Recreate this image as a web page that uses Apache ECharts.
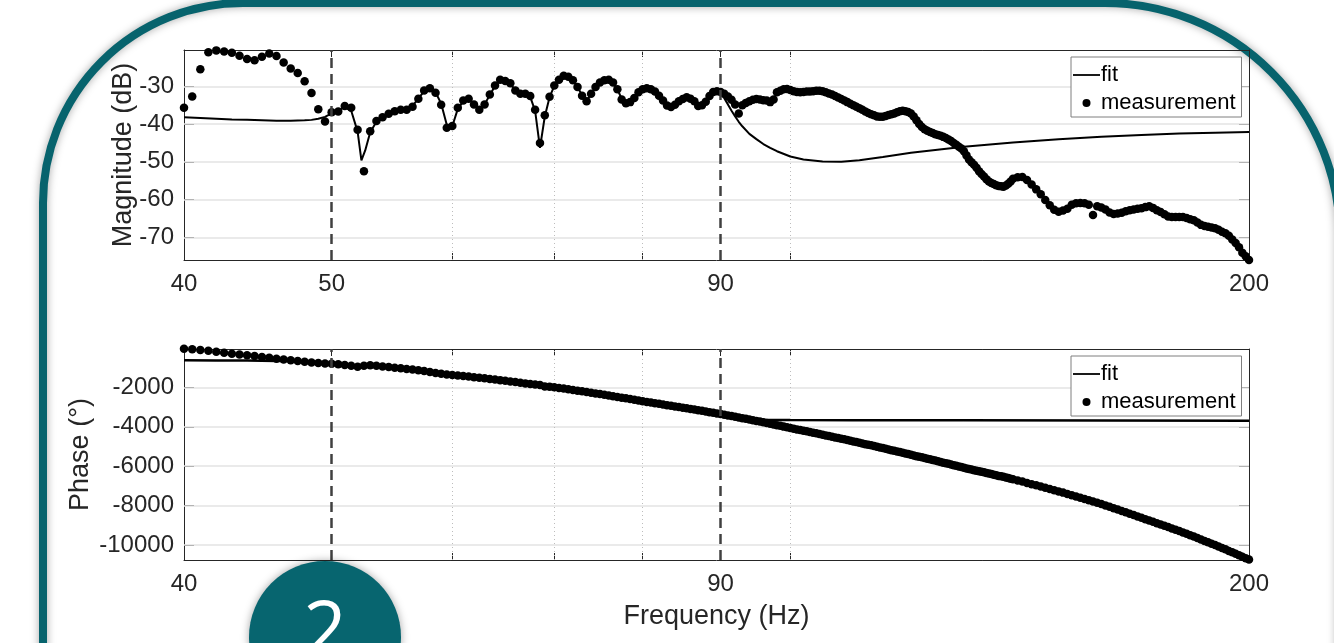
<!DOCTYPE html>
<html>
<head>
<meta charset="utf-8">
<script src="https://cdn.jsdelivr.net/npm/echarts@6/dist/echarts.min.js"></script>
<style>
  html, body { margin: 0; padding: 0; background: #fff; }
  #chart { width: 1334px; height: 643px; }
</style>
</head>
<body>
<div id="chart"></div>
<script>
// measured frequencies (Hz): 0.5 Hz steps up to 140, then 1 Hz
const freqs = [40,40.5,41,41.5,42,42.5,43,43.5,44,44.5,45,45.5,46,46.5,47,47.5,48,48.5,49,49.5,
  50,50.5,51,51.5,52,52.5,53,53.5,54,54.5,55,55.5,56,56.5,57,57.5,58,58.5,59,59.5,
  60,60.5,61,61.5,62,62.5,63,63.5,64,64.5,65,65.5,66,66.5,67,67.5,68,68.5,69,69.5,
  70,70.5,71,71.5,72,72.5,73,73.5,74,74.5,75,75.5,76,76.5,77,77.5,78,78.5,79,79.5,
  80,80.5,81,81.5,82,82.5,83,83.5,84,84.5,85,85.5,86,86.5,87,87.5,88,88.5,89,89.5,
  90,90.5,91,91.5,92,92.5,93,93.5,94,94.5,95,95.5,96,96.5,97,97.5,98,98.5,99,99.5,100,
  100.5,101,101.5,102,102.5,103,103.5,104,104.5,105,105.5,106,106.5,107,107.5,108,108.5,109,109.5,110,
  110.5,111,111.5,112,112.5,113,113.5,114,114.5,115,115.5,116,116.5,117,117.5,118,118.5,119,119.5,120,
  120.5,121,121.5,122,122.5,123,123.5,124,124.5,125,125.5,126,126.5,127,127.5,128,128.5,129,129.5,130,
  130.5,131,131.5,132,132.5,133,133.5,134,134.5,135,135.5,136,136.5,137,137.5,138,138.5,139,139.5,140,
  141,142,143,144,145,146,147,148,149,150,151,152,153,154,155,156,157,158,159,160,
  161,162,163,164,165,166,167,168,169,170,171,172,173,174,175,176,177,178,179,180,
  181,182,183,184,185,186,187,188,189,190,191,192,193,194,195,196,197,198,199,200];

// measured magnitude (dB)
const magMeas = [-35.7,-32.7,-25.5,-21.0,-20.5,-20.8,-21.1,-21.9,-22.8,-23.1,-22.2,-21.3,-22.0,-23.7,-25.3,-26.5,-28.7,-31.8,-36.1,-39.3,
  -36.9,-36.7,-35.2,-35.7,-41.5,-52.5,-41.9,-39.2,-38.2,-37.3,-36.6,-36.2,-36.2,-35.4,-33.3,-31.1,-30.5,-31.7,-34.9,-41.0,
  -40.5,-35.7,-33.8,-33.3,-34.8,-36.2,-34.8,-32.2,-29.8,-28.3,-28.6,-29.2,-31.1,-32.0,-32.0,-32.6,-36.2,-45.0,-37.7,-32.8,
  -29.8,-28.3,-27.2,-27.5,-28.4,-30.2,-32.5,-34.0,-32.0,-30.2,-29.0,-28.4,-28.3,-29.0,-30.8,-33.5,-34.5,-34.2,-33.1,-31.6,
  -30.8,-30.5,-30.8,-31.4,-32.5,-33.8,-35.1,-35.5,-34.9,-34.0,-33.4,-32.9,-33.3,-34.0,-35.2,-35.0,-34.1,-32.6,-31.5,-31.3,
  -31.5,-32.0,-32.7,-33.6,-34.8,-37.2,-35.0,-34.4,-34.0,-33.6,-33.4,-33.5,-33.7,-33.8,-34.2,-33.5,-31.6,-31.2,-30.8,-30.7,-31.0,
  -31.3,-31.5,-31.6,-31.5,-31.4,-31.4,-31.3,-31.2,-31.2,-31.3,-31.6,-31.9,-32.2,-32.6,-33.0,-33.4,-33.8,-34.2,-34.6,-35.0,
  -35.4,-35.8,-36.2,-36.7,-37.1,-37.4,-37.7,-38.0,-38.1,-38.1,-37.9,-37.6,-37.4,-37.2,-36.9,-36.6,-36.5,-36.6,-36.8,-37.2,
  -38.0,-39.0,-40.0,-40.8,-41.4,-41.8,-42.1,-42.4,-42.7,-42.9,-43.1,-43.4,-43.7,-44.1,-44.5,-45.0,-45.5,-46.0,-46.5,-47.2,
  -48.3,-49.4,-50.1,-50.8,-51.6,-52.5,-53.2,-53.9,-54.6,-55.2,-55.6,-55.9,-56.2,-56.4,-56.5,-56.6,-56.3,-55.8,-55.2,-54.5,
  -54.1,-54.0,-54.8,-56.0,-57.3,-58.6,-60.1,-61.5,-62.7,-63.2,
  -62.9,-62.4,-61.4,-61.0,-60.9,-61.0,-61.4,-64.1,-61.8,-62.1,
  -62.6,-63.4,-63.8,-63.7,-63.5,-63.1,-62.8,-62.6,-62.4,-62.3,
  -62.0,-61.8,-62.2,-62.8,-63.3,-63.9,-64.5,-64.6,-64.6,-64.6,
  -64.6,-64.9,-65.2,-65.5,-66.1,-66.7,-67.0,-67.2,-67.4,-67.6,
  -68.0,-68.5,-68.9,-69.6,-70.6,-71.5,-72.6,-74.1,-75.0,-76.0];

// measured phase (deg)
const phaseMeas = [-40,-60,-105,-140,-190,-240,-290,-330,-370,-410,-450,-500,-545,-580,-625,-665,-700,-730,-755,-780,
  -800,-825,-860,-905,-950,-900,-880,-905,-935,-965,-1000,-1030,-1065,-1095,-1130,-1165,-1215,-1265,-1310,-1340,
  -1365,-1390,-1420,-1450,-1480,-1510,-1540,-1570,-1600,-1630,-1665,-1695,-1730,-1760,-1795,-1825,-1855,-1875,-1955,-1960,
  -1990,-2025,-2060,-2095,-2130,-2165,-2200,-2235,-2270,-2305,-2340,-2375,-2410,-2450,-2485,-2520,-2555,-2590,-2630,-2665,
  -2700,-2735,-2765,-2800,-2830,-2865,-2900,-2930,-2965,-2995,-3030,-3060,-3095,-3125,-3160,-3190,-3225,-3255,-3290,-3320,
  -3350,-3385,-3420,-3455,-3490,-3525,-3560,-3595,-3630,-3665,-3700,-3735,-3770,-3810,-3845,-3880,-3915,-3950,-3990,-4025,-4060,
  -4095,-4130,-4165,-4200,-4230,-4260,-4295,-4330,-4365,-4400,-4435,-4470,-4505,-4540,-4570,-4600,-4635,-4670,-4705,-4740,
  -4775,-4810,-4845,-4880,-4910,-4940,-4975,-5010,-5045,-5080,-5115,-5150,-5185,-5220,-5250,-5280,-5315,-5350,-5385,-5420,
  -5455,-5490,-5520,-5550,-5585,-5620,-5650,-5680,-5715,-5750,-5785,-5820,-5850,-5880,-5915,-5950,-5980,-6010,-6045,-6080,
  -6110,-6140,-6170,-6200,-6225,-6250,-6280,-6310,-6340,-6370,-6400,-6430,-6460,-6490,-6515,-6540,-6570,-6600,-6630,-6660,
  -6720,-6780,-6850,-6910,-6970,-7030,-7090,-7160,-7220,-7280,
  -7340,-7410,-7470,-7540,-7600,-7660,-7730,-7790,-7860,-7920,
  -7990,-8060,-8130,-8200,-8270,-8340,-8410,-8480,-8550,-8620,
  -8690,-8750,-8820,-8890,-8960,-9020,-9090,-9160,-9220,-9290,
  -9360,-9430,-9500,-9570,-9640,-9720,-9790,-9860,-9930,-10000,
  -10070,-10150,-10220,-10300,-10370,-10440,-10520,-10590,-10670,-10740];

// fitted model
const fitMagFreqs = [40,41,42,43,44,45,46,47,48,48.5,49,49.5,50,50.5,51,51.5,52,52.3,52.6,
  53,53.5,54,54.5,55,55.5,56,56.5,57,57.5,58,58.5,59,59.5,59.8,
  60,60.5,61,61.5,62,62.5,63,63.5,64,64.5,65,65.5,66,66.5,67,67.5,68,68.5,69,69.5,
  70,70.5,71,71.5,72,72.5,73,73.5,74,74.5,75,75.5,76,76.5,77,77.5,78,78.5,79,79.5,
  80,80.5,81,81.5,82,82.5,83,83.5,84,84.5,85,85.5,86,86.5,87,87.5,88,88.5,89,89.5,
  90,90.5,91,91.5,92,92.5,93,94,95,96,97,98,100,102,105,108,111,115,120,130,140,150,160,170,180,190,200];
const fitMag = [-38.2,-38.4,-38.6,-38.8,-38.9,-39.0,-39.1,-39.1,-39.0,-38.9,-38.6,-38.1,-37.2,-36.4,-35.5,-36.5,-42.0,-49.6,-47.0,
  -42.2,-39.4,-38.2,-37.4,-36.8,-36.3,-36.0,-35.2,-33.3,-31.3,-30.6,-31.6,-34.6,-40.2,-41.2,
  -40.6,-36.0,-34.0,-33.5,-34.7,-35.9,-34.8,-32.3,-29.9,-28.5,-28.6,-29.4,-31.0,-31.9,-32.1,-32.8,-36.5,-46.3,-38.0,-32.9,
  -29.9,-28.4,-27.4,-27.6,-28.5,-30.2,-32.4,-33.8,-32.1,-30.3,-29.1,-28.5,-28.4,-29.1,-30.8,-33.3,-34.4,-34.1,-33.1,-31.7,
  -30.9,-30.6,-30.9,-31.5,-32.5,-33.8,-35.0,-35.3,-34.8,-34.0,-33.4,-33.0,-33.3,-34.0,-35.0,-34.9,-34.0,-32.7,-31.7,-31.4,
  -31.6,-33.2,-34.8,-36.5,-38.0,-39.4,-40.6,-42.6,-44.0,-45.3,-46.3,-47.2,-48.6,-49.4,-49.9,-50.0,-49.6,-48.7,-47.6,
  -46.0,-44.9,-44.0,-43.4,-42.9,-42.5,-42.3,-42.1];
const fitPhaseFreqs = [40,42,44,46,47,48,49,50,52,54,56,58,60,65,70,75,80,85,90,92,93,94,95,96,98,100,110,130,160,200];
const fitPhase = [-620,-630,-640,-655,-665,-690,-740,-790,-900,-935,-1065,-1215,-1365,-1665,-1990,-2340,-2700,-3030,
  -3350,-3470,-3530,-3580,-3615,-3635,-3650,-3656,-3662,-3668,-3678,-3690];

// axis ticks
const xTickLabels = [40, 50, 90, 200];
const xMinorTicks = [60, 70, 80, 100];
const magTicks = [-70, -60, -50, -40, -30];
const phaseTicks = [-10000, -8000, -6000, -4000, -2000];
const markerFreqs = [50, 90];

const FONT = 'Liberation Sans, Arial, sans-serif';
const AXIS_COLOR = '#262626';
const toPairs = (xs, ys) => xs.map((x, i) => [x, ys[i]]);

function xAxes (gridIndex, name) {
  const base = {
    type: 'log', logBase: 10, gridIndex, min: 40, max: 200,
    axisLine: { show: true, onZero: false, lineStyle: { color: AXIS_COLOR, width: 1 } },
    axisTick: { show: true, inside: true, length: 7, customValues: xTickLabels.concat(xMinorTicks), lineStyle: { color: AXIS_COLOR } },
    splitLine: { show: false }
  };
  return [
    Object.assign({}, base, {
      position: 'bottom',
      name, nameLocation: 'middle', nameGap: 43, nameMoveOverlap: false,
      nameTextStyle: { fontSize: 27, color: AXIS_COLOR, fontFamily: FONT },
      axisLabel: { customValues: xTickLabels, margin: 12, fontSize: 24, color: AXIS_COLOR, fontFamily: FONT, formatter: v => String(v), hideOverlap: false }
    }),
    Object.assign({}, base, { position: 'top', axisLabel: { show: false } })
  ];
}

function yAxes (gridIndex, min, max, ticks, name, nameGap) {
  const base = {
    type: 'value', gridIndex, min, max,
    axisLine: { show: true, onZero: false, lineStyle: { color: AXIS_COLOR, width: 1 } },
    axisTick: { show: true, inside: true, length: 10, customValues: ticks, lineStyle: { color: AXIS_COLOR } },
    splitLine: { show: false }
  };
  return [
    Object.assign({}, base, {
      position: 'left',
      name, nameLocation: 'middle', nameGap, nameMoveOverlap: false,
      nameTextStyle: { fontSize: 27, color: AXIS_COLOR, fontFamily: FONT },
      axisLabel: { customValues: ticks, margin: 10, fontSize: 24, color: AXIS_COLOR, fontFamily: FONT, formatter: v => String(v) }
    }),
    Object.assign({}, base, { position: 'right', axisLabel: { show: false } })
  ];
}

// light grid lines drawn as marklines (log axis grid needs fixed values)
function gridLines (yTicks) {
  return {
    silent: true, symbol: 'none', z: 1, animation: false,
    label: { show: false },
    lineStyle: { color: '#e3e3e3', width: 1.5, type: 'solid' },
    data: yTicks.map(v => ({ yAxis: v })).concat(
      xMinorTicks.map(f => ({ xAxis: f, lineStyle: { color: '#bdbdbd', width: 1, type: [1, 3] } })))
  };
}

const dashedLines = {
  silent: true, symbol: 'none', animation: false,
  label: { show: false },
  lineStyle: { color: '#404040', width: 2.5, type: [10, 6] },
  data: markerFreqs.map(f => ({ xAxis: f }))
};

function legendFor (top) {
  return {
    left: 1071, top, orient: 'vertical', selectedMode: false,
    data: [
      { name: 'fit', icon: 'path://M0,0M0,3.1h27v1.8h-27zM27,8' },
      { name: 'measurement', icon: 'circle' }
    ],
    itemWidth: 27, itemHeight: 8, itemGap: 6,
    padding: [7, 6, 3, 2],
    borderColor: '#7f7f7f', borderWidth: 1, borderRadius: 0,
    backgroundColor: '#fff',
    textStyle: { fontSize: 22, color: '#000', fontFamily: FONT, padding: [0, 0, 0, -4] }
  };
}

const dotStyle = { color: '#000', opacity: 1 };

const chart = echarts.init(document.getElementById('chart'));
chart.setOption({
  animation: false,
  backgroundColor: '#fff',
  grid: [
    { left: 184, top: 50, width: 1065, height: 210 },
    { left: 184, top: 349, width: 1065, height: 211 }
  ],
  legend: [legendFor(57), legendFor(356)],
  xAxis: xAxes(0, '').concat(xAxes(1, 'Frequency (Hz)')),
  yAxis: yAxes(0, -76, -20.4, magTicks, 'Magnitude (dB)', 47)
    .concat(yAxes(1, -10760, -50, phaseTicks, 'Phase (°)', 90)),
  series: [
    {
      name: 'fit', type: 'line', xAxisIndex: 0, yAxisIndex: 0,
      data: toPairs(fitMagFreqs, fitMag), symbol: 'none', color: '#000',
      lineStyle: { color: '#000', width: 2 }, z: 3,
      markLine: gridLines(magTicks)
    },
    {
      name: 'measurement', type: 'scatter', xAxisIndex: 0, yAxisIndex: 0,
      data: toPairs(freqs, magMeas), symbolSize: 8.5, color: '#000',
      itemStyle: dotStyle, clip: false, z: 4,
      markLine: dashedLines
    },
    {
      name: 'fit', type: 'line', xAxisIndex: 2, yAxisIndex: 2,
      data: toPairs(fitPhaseFreqs, fitPhase), symbol: 'none', color: '#000',
      lineStyle: { color: '#000', width: 2.5 }, z: 3,
      markLine: gridLines(phaseTicks)
    },
    {
      name: 'measurement', type: 'scatter', xAxisIndex: 2, yAxisIndex: 2,
      data: toPairs(freqs, phaseMeas), symbolSize: 8.5, color: '#000',
      itemStyle: dotStyle, clip: false, z: 4,
      markLine: dashedLines
    }
  ],
  graphic: [
    {
      type: 'rect', silent: true, z: -1,
      shape: { x: 43, y: 3, width: 1297, height: 1000, r: [200, 235, 0, 0] },
      style: { fill: 'none', stroke: '#07636d', lineWidth: 8, shadowBlur: 8, shadowColor: 'rgba(0,0,0,0.35)' }
    },
    {
      type: 'circle', silent: true, z: 100,
      shape: { cx: 325, cy: 637, r: 76 },
      style: { fill: '#07656f', shadowBlur: 8, shadowColor: 'rgba(0,0,0,0.35)' }
    },
    {
      type: 'text', silent: true, z: 101, x: 325, y: 634,
      style: { text: '2', fill: '#fff', font: '76px "Open Sans"', align: 'center', verticalAlign: 'middle' }
    }
  ]
});
</script>
</body>
</html>
